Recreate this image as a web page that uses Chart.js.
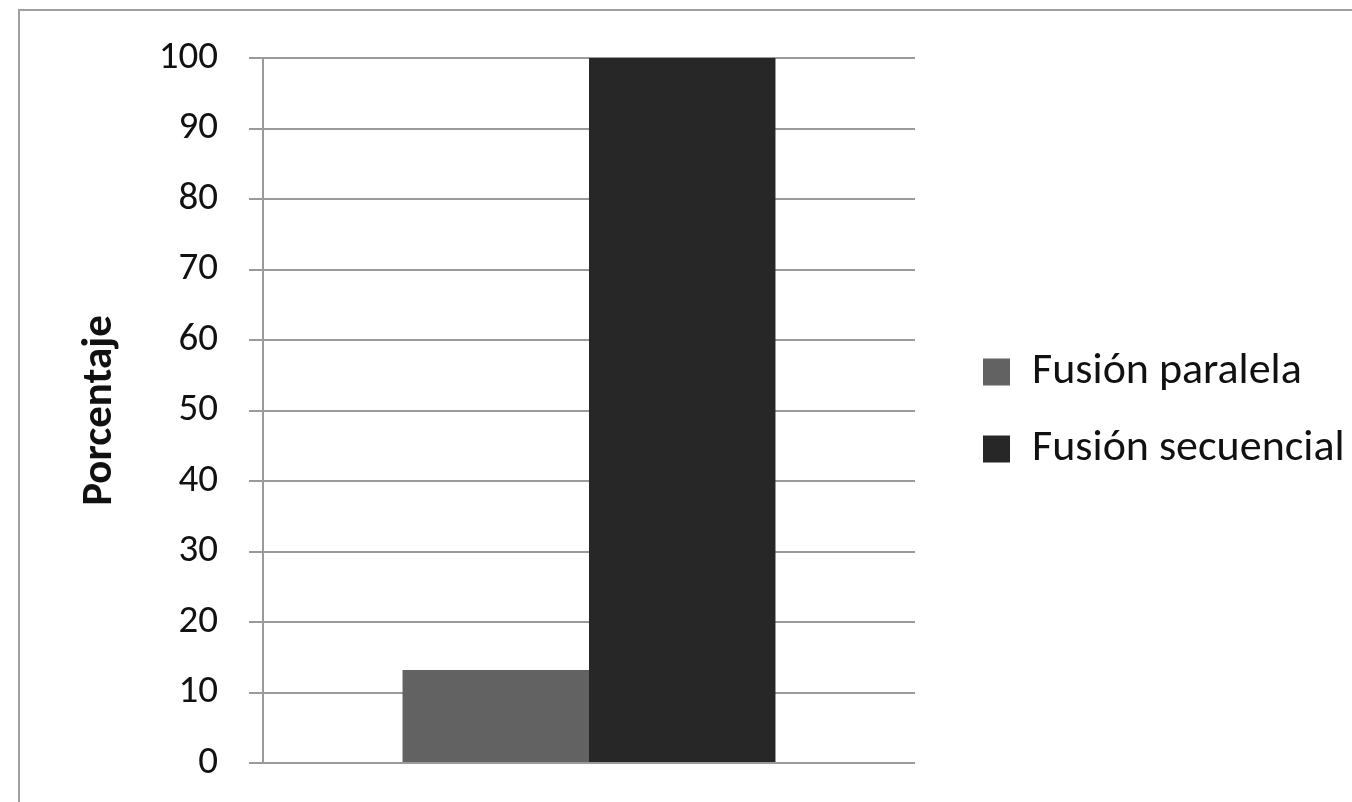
<!DOCTYPE html>
<html>
<head>
<meta charset="utf-8">
<script src="https://cdn.jsdelivr.net/npm/chart.js@4"></script>
<style>
  html, body { margin: 0; padding: 0; background: #fff; overflow: hidden; }
  #wrap { position: relative; width: 1352px; height: 802px; }
  #frame { position: absolute; left: 18px; top: 9px; width: 2000px; height: 2000px;
           border-left: 2px solid #a0a0a0; border-top: 2px solid #a0a0a0; pointer-events: none; }
</style>
</head>
<body>
<div id="wrap">
  <canvas id="fusionChart" width="1352" height="802"></canvas>
  <div id="frame"></div>
</div>
<script>
const categories = [''];
const seriesNames = ['Fusión paralela', 'Fusión secuencial'];
const paralelaValues = [13.2];
const secuencialValues = [100];
const yTicks = [0, 10, 20, 30, 40, 50, 60, 70, 80, 90, 100];

function createFusionChart() {
    const gridGray = '#9a9a9a';
    const fontFamily = 'Carlito, Lato, sans-serif';

    const data = {
        labels: categories,
        datasets: [{
            label: seriesNames[0],
            data: paralelaValues,
            backgroundColor: '#626262',
            borderWidth: 0
        }, {
            label: seriesNames[1],
            data: secuencialValues,
            backgroundColor: '#272727',
            borderWidth: 0
        }]
    };

    const config = {
        type: 'bar',
        data: data,
        options: {
            responsive: false,
            animation: false,
            categoryPercentage: 0.572,
            barPercentage: 1.0,
            layout: {
                padding: { left: 58, top: 58, bottom: 39, right: 0 }
            },
            scales: {
                x: {
                    display: false
                },
                y: {
                    min: 0,
                    max: 100,
                    afterBuildTicks: scale => {
                        scale.ticks = yTicks.map(v => ({ value: v }));
                    },
                    afterFit: scale => {
                        scale.width = 205;
                        // label overflow is already covered by layout padding
                        scale.paddingTop = 0;
                        scale.paddingBottom = 0;
                    },
                    ticks: {
                        color: '#111',
                        padding: 31,
                        font: { family: fontFamily, size: 39 }
                    },
                    grid: {
                        color: gridGray,
                        lineWidth: 2,
                        tickLength: 14
                    },
                    border: {
                        display: true,
                        color: gridGray,
                        width: 2
                    },
                    title: {
                        display: true,
                        text: 'Porcentaje',
                        color: '#111',
                        padding: { top: 16, bottom: 0 },
                        font: { family: fontFamily, size: 43, weight: 'bold' }
                    }
                },
                gap: {
                    type: 'linear',
                    position: 'right',
                    display: true,
                    ticks: { display: false },
                    grid: { display: false, drawTicks: false },
                    border: { display: false },
                    afterFit: scale => {
                        scale.width = 35;
                    }
                }
            },
            plugins: {
                legend: {
                    position: 'right',
                    maxWidth: 402,
                    labels: {
                        color: '#111',
                        boxWidth: 27,
                        boxHeight: 27,
                        padding: 33,
                        font: { family: fontFamily, size: 44 }
                    }
                },
                tooltip: { enabled: false }
            }
        }
    };

    var ctx = document.getElementById('fusionChart').getContext('2d');
    new Chart(ctx, config);
}

createFusionChart();
</script>
</body>
</html>
